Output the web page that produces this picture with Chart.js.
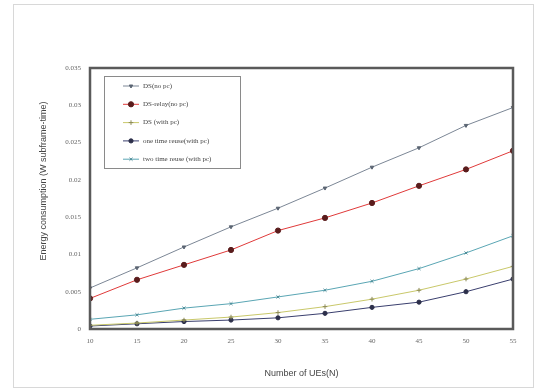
<!DOCTYPE html>
<html>
<head>
<meta charset="utf-8">
<script src="https://cdn.jsdelivr.net/npm/chart.js@4"></script>
<style>
  html, body { margin: 0; padding: 0; background: #fff; }
  #wrap { width: 534px; height: 389px; position: relative; }
</style>
</head>
<body>
<div id="wrap"><canvas id="chart" width="534" height="389"></canvas></div>
<script>
// --- Data ---
const userCounts = [10, 15, 20, 25, 30, 35, 40, 45, 50, 55];
const dsNoPc = [0.0055, 0.0082, 0.0110, 0.0137, 0.0162, 0.0189, 0.0217, 0.0243, 0.0273, 0.0297];
const dsRelayNoPc = [0.0041, 0.0066, 0.0086, 0.0106, 0.0132, 0.0149, 0.0169, 0.0192, 0.0214, 0.0239];
const dsWithPc = [0.0005, 0.0008, 0.0012, 0.0016, 0.0022, 0.0030, 0.0040, 0.0052, 0.0067, 0.0084];
const oneTimeReuse = [0.0004, 0.0007, 0.0010, 0.0012, 0.0015, 0.0021, 0.0029, 0.0036, 0.0050, 0.0067];
const twoTimeReuse = [0.0013, 0.0019, 0.0028, 0.0034, 0.0043, 0.0052, 0.0064, 0.0081, 0.0102, 0.0125];
const seriesNames = ['DS(no pc)', 'DS-relay(no pc)', 'DS (with pc)', 'one time reuse(with pc)', 'two time reuse (with pc)'];
const yTicks = [0, 0.005, 0.01, 0.015, 0.02, 0.025, 0.03, 0.035];
const yTitle = 'Energy consumption (W subframe-time)';

const tickFont = { family: 'Liberation Serif', size: 7 };

const toPoints = arr => arr.map((v, i) => ({ x: userCounts[i], y: v }));

function makeSet(label, data, color, marker, pointColor, rotation = 0, radius = 2.5) {
    return {
        label, data: toPoints(data),
        borderColor: color, borderWidth: 1,
        pointStyle: marker, pointRotation: rotation, pointRadius: radius,
        pointBackgroundColor: pointColor, pointBorderColor: pointColor, pointBorderWidth: 1,
        tension: 0, fill: false
    };
}

const datasets = [
    makeSet(seriesNames[0], dsNoPc, '#7c8796', 'triangle', '#5a6472', 180, 2.0),
    makeSet(seriesNames[1], dsRelayNoPc, '#e03a3a', 'circle', '#5a1c1c', 0, 2.6),
    makeSet(seriesNames[2], dsWithPc, '#c9c86a', 'cross', '#8c8a55', 0, 2.3),
    makeSet(seriesNames[3], oneTimeReuse, '#3a3f6e', 'circle', '#2c2f4a', 0, 2.1),
    makeSet(seriesNames[4], twoTimeReuse, '#5aa6b4', 'crossRot', '#4a8a96', 0, 2.1)
];

// frame, y title and in-plot legend
const framePlugin = {
    id: 'frame',
    beforeDraw(chart) {
        const c = chart.ctx;
        c.save();
        c.fillStyle = '#fff';
        c.fillRect(0, 0, chart.width, chart.height);
        c.strokeStyle = '#d8d8d8';
        c.lineWidth = 1;
        c.strokeRect(13.5, 4.5, 520, 383);
        c.restore();
    },
    afterDraw(chart) {
        const c = chart.ctx;
        const a = chart.chartArea;
        c.save();
        c.strokeStyle = '#5a5a5a';
        c.lineWidth = 2.5;
        c.strokeRect(a.left, a.top, a.right - a.left, a.bottom - a.top);

        // y axis title
        c.save();
        c.translate(44, 181);
        c.rotate(-Math.PI / 2);
        c.font = '9px "Liberation Sans"';
        c.fillStyle = '#444';
        c.textAlign = 'center';
        c.textBaseline = 'middle';
        c.fillText(yTitle, 0, 0);
        c.restore();

        // legend box
        const bx = 104, by = 76, bw = 136, bh = 92;
        c.fillStyle = '#fff';
        c.fillRect(bx, by, bw, bh);
        c.strokeStyle = '#8a8a8a';
        c.lineWidth = 1;
        c.strokeRect(bx + 0.5, by + 0.5, bw, bh);
        c.font = '7px "Liberation Serif"';
        c.textBaseline = 'middle';
        chart.data.datasets.forEach((ds, i) => {
            const y = by + 10 + i * 18.3;
            c.strokeStyle = ds.borderColor;
            c.lineWidth = 1;
            c.beginPath();
            c.moveTo(123, y);
            c.lineTo(139, y);
            c.stroke();
            c.fillStyle = ds.pointBackgroundColor;
            c.strokeStyle = ds.pointBorderColor;
            Chart.helpers.drawPoint(c, {
                pointStyle: ds.pointStyle, rotation: ds.pointRotation,
                radius: ds.pointRadius, borderWidth: 1
            }, 131, y);
            c.fillStyle = '#444';
            c.fillText(ds.label, 143, y);
        });
        c.restore();
    }
};

new Chart(document.getElementById('chart'), {
    type: 'line',
    data: { datasets },
    options: {
        responsive: false,
        animation: false,
        layout: { padding: { left: 50, top: 68, right: 21, bottom: 6 } },
        plugins: { legend: { display: false }, tooltip: { enabled: false } },
        scales: {
            x: {
                type: 'linear', min: 10, max: 55,
                afterBuildTicks: s => { s.ticks = userCounts.map(v => ({ value: v })); },
                grid: { display: false, drawTicks: false },
                border: { display: false },
                ticks: { font: tickFont, color: '#666', padding: 8 },
                title: { display: true, text: 'Number of UEs(N)', color: '#444',
                         font: { family: 'Liberation Sans', size: 9 }, padding: { top: 14 } },
                afterFit: s => { s.height = 54; }
            },
            y: {
                min: 0, max: 0.035,
                afterBuildTicks: s => { s.ticks = yTicks.map(v => ({ value: v })); },
                grid: { display: false, drawTicks: false },
                border: { display: false },
                ticks: { font: tickFont, color: '#666', padding: 9,
                         callback: v => String(+v.toFixed(3)) },
                afterFit: s => { s.width = 40; }
            }
        }
    },
    plugins: [framePlugin]
});
</script>
</body>
</html>
